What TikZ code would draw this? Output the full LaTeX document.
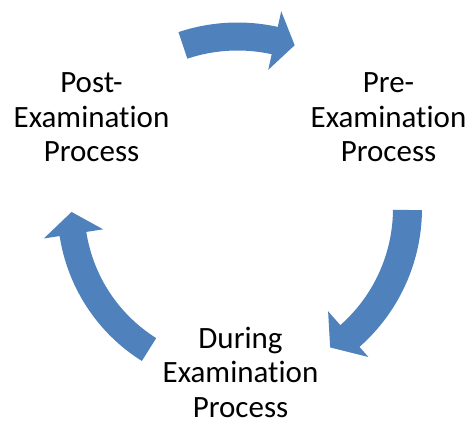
\documentclass[tikz,border=0pt]{standalone}
\usepackage{fontspec}
\setmainfont{Carlito}[Ligatures=NoCommon]
\definecolor{arrowblue}{HTML}{4F81BD}
\begin{document}
\begin{tikzpicture}[x=1pt,y=1pt,
  label/.style={align=center, inner sep=0pt, font=\fontsize{31}{34.5}\selectfont},
  cyclearrow/.style={fill=arrowblue, draw=none}]
\useasboundingbox (0,0) rectangle (469,421);
% labels
\node[label] (post) at (91.5,303.5) {Post-\\Examination\\Process};
\node[label] (pre) at (388.5,303.5) {Pre-\\Examination\\Process};
\node[label] (during) at (240.5,49) {During\\Examination\\Process};
% arrows
\begin{scope}[shift={(237.5,212.5)}]
  % top arrow: Post -> Pre
  \path[cyclearrow] (108.5:186pt) arc[start angle=108.5, end angle=77.5, radius=186pt]
    -- (77.5:202pt) -- (70.7:173pt) -- (77.5:142pt) -- (77.5:158pt)
    arc[start angle=77.5, end angle=108.5, radius=158pt] -- cycle;
  % right arrow: Pre -> During
  \path[cyclearrow] (-0.5:184.5pt) arc[start angle=-0.5, end angle=-48.6, radius=184.5pt]
    -- (-48.6:198pt) -- (-56.3:167pt) -- (-48.6:137pt) -- (-48.6:155.5pt)
    arc[start angle=-48.6, end angle=-0.5, radius=155.5pt] -- cycle;
  % left arrow: During -> Post
  \path[cyclearrow] (237.9:180pt) arc[start angle=237.9, end angle=188.8, radius=180pt]
    -- (188.8:196pt) -- (181.2:166pt) -- (188.8:136pt) -- (188.8:153pt)
    arc[start angle=188.8, end angle=237.9, radius=153pt] -- cycle;
\end{scope}
\end{tikzpicture}
\end{document}
